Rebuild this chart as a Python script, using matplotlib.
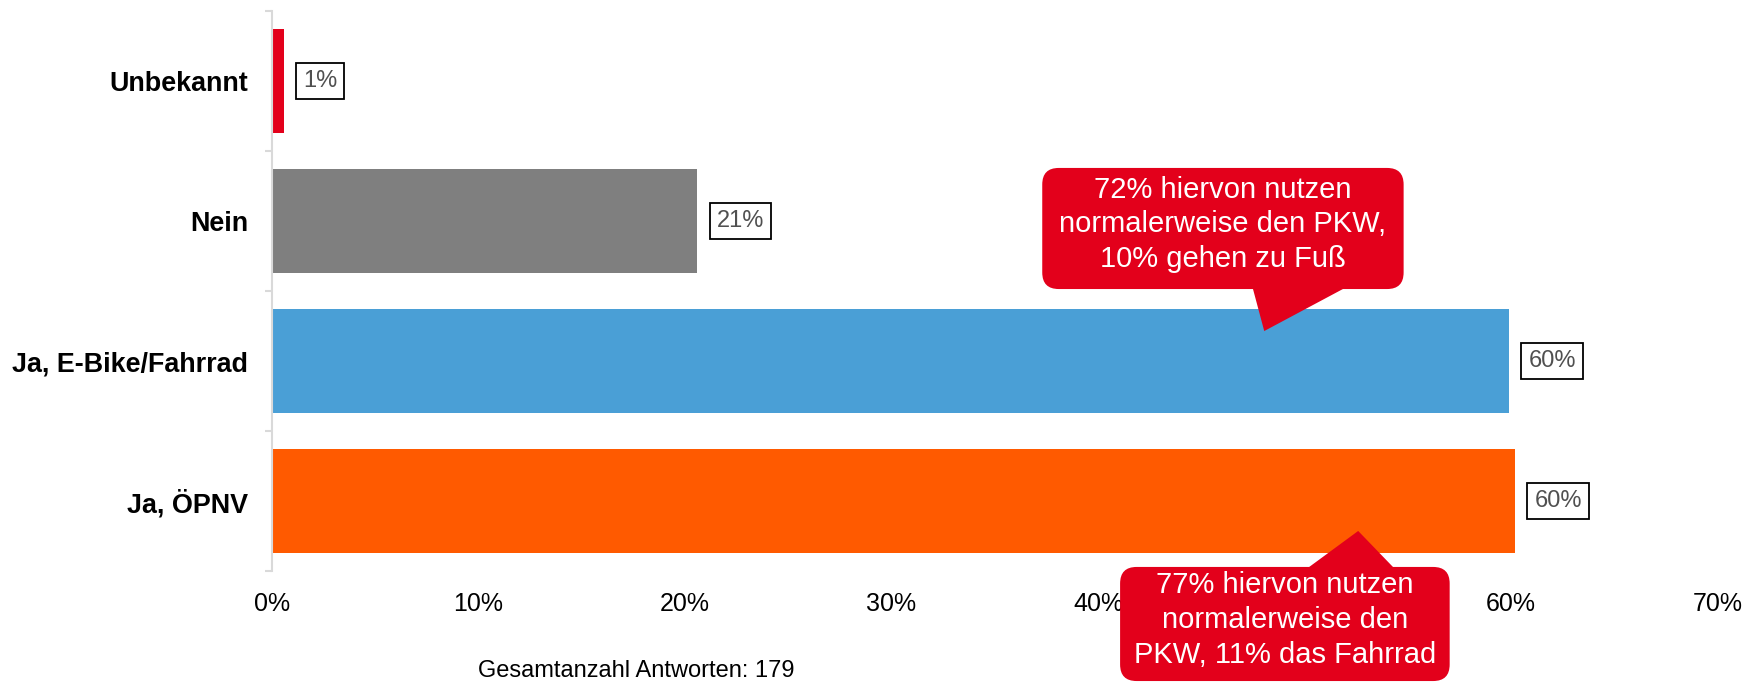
import matplotlib.pyplot as plt
from matplotlib.patches import Polygon, FancyBboxPatch

# Survey answers, top to bottom (percent of all answers)
categories = ["Unbekannt", "Nein", "Ja, E-Bike/Fahrrad", "Ja, ÖPNV"]
shares = [0.56, 20.6, 59.9, 60.2]
colors = ["#E3001B", "#7F7F7F", "#4A9FD6", "#FF5A00"]
xticks = [0, 10, 20, 30, 40, 50, 60, 70]
total = 179

note_bike = "72% hiervon nutzen\nnormalerweise den PKW,\n10% gehen zu Fuß"
note_oepnv = "77% hiervon nutzen\nnormalerweise den\nPKW, 11% das Fahrrad"
footer = f"Gesamtanzahl Antworten: {total}"

plt.rcParams["font.family"] = ["Liberation Sans", "DejaVu Sans"]

RED = "#E3001B"

fig = plt.figure(figsize=(17.62, 6.83), dpi=100)
ax = fig.add_axes([272 / 1762, 1 - 571 / 683, 1445.5 / 1762, 560 / 683])

ypos = list(range(len(categories)))[::-1]
ax.barh(ypos, shares, height=0.736, color=colors)

ax.set_xlim(0, 70)
ax.set_ylim(-0.5, 3.5)

# value boxes right of each bar
for y, v in zip(ypos, shares):
    ax.annotate(f"{v:.0f}%", xy=(v, y), xytext=(14, 0), textcoords="offset points",
                va="center", ha="left", fontsize=17, color="#505050",
                bbox=dict(boxstyle="square,pad=0.3", fc="white", ec="black", lw=1.3))

ax.set_yticks(ypos)
ax.set_yticklabels(categories, fontsize=19.4, fontweight="bold")
ax.set_yticks([-0.5, 0.5, 1.5, 2.5, 3.5], minor=True)
ax.tick_params(axis="y", which="major", length=0, pad=17)
ax.tick_params(axis="y", which="minor", length=5, width=1.5, color="#D9D9D9")

ax.set_xticks(xticks)
ax.set_xticklabels([f"{t}%" for t in xticks], fontsize=18)
ax.tick_params(axis="x", length=0, pad=15)

for s in ["top", "right", "bottom"]:
    ax.spines[s].set_visible(False)
ax.spines["left"].set_color("#D9D9D9")
ax.spines["left"].set_linewidth(1.5)

# speech bubbles (box, pointer, text); aspect keeps the corners round
aspect = (4 / 560) / (70 / 1445.5)


def bubble(x0, x1, y0, y1, tail, tx, ty, text):
    box = FancyBboxPatch((x0, y0), x1 - x0, y1 - y0,
                         boxstyle="round,pad=0,rounding_size=0.8",
                         mutation_aspect=aspect, fc=RED, ec="none",
                         clip_on=False, zorder=4)
    ax.add_patch(box)
    ax.add_patch(Polygon(tail, closed=True, fc=RED, ec="none", clip_on=False, zorder=4))
    ax.text(tx, ty, text, ha="center", va="center", fontsize=21, color="white",
            linespacing=1.3, zorder=5, clip_on=False)


bubble(37.3, 54.8, 1.514, 2.379,
       [(47.35, 1.6), (52.95, 1.6), (48.05, 1.214)],
       46.05, 1.975, note_bike)
bubble(41.07, 57.03, -1.286, -0.471,
       [(49.5, -0.55), (54.8, -0.55), (52.6, -0.214)],
       49.04, -0.85, note_oepnv)

fig.text(636 / 1762, 1 - 671 / 683, footer, ha="center", va="center", fontsize=17)

fig.savefig("out.png", dpi=100)
